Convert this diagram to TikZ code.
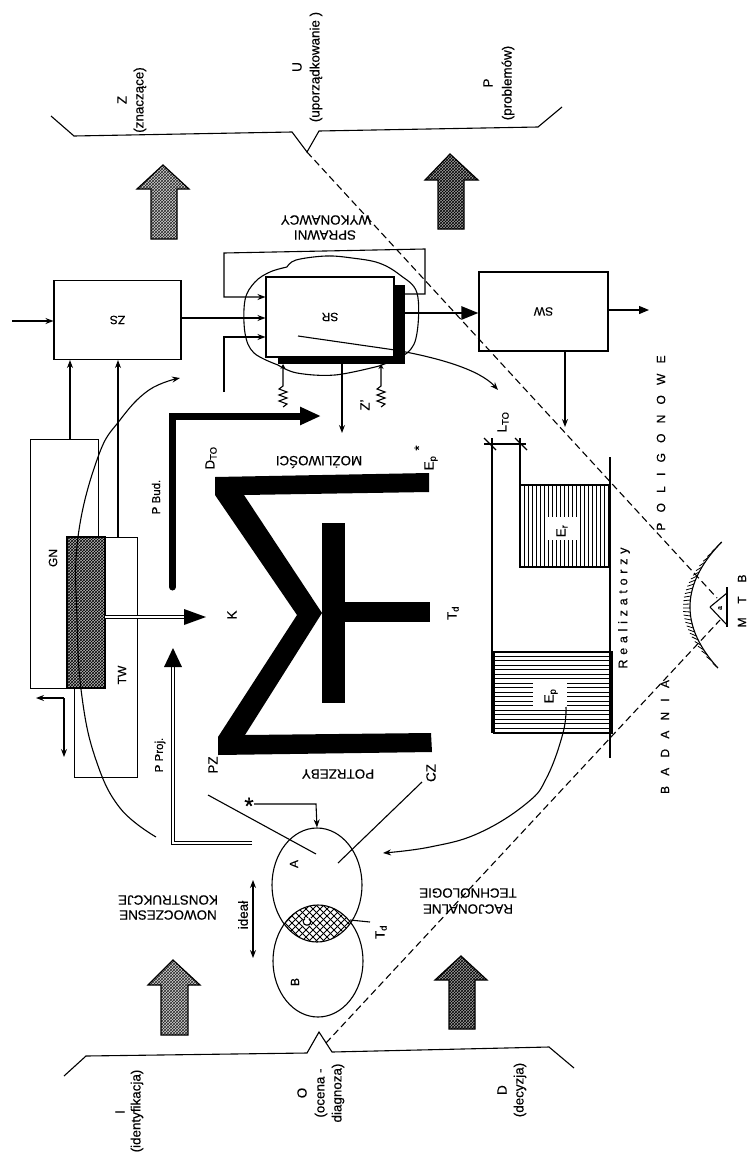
\documentclass[tikz,border=0pt]{standalone}
\usepackage{fontspec}
\setmainfont[FakeBold=0.35]{Liberation Sans}
\newfontfamily\spacedfont[LetterSpace=85,FakeBold=0.35]{Liberation Sans}
\newfontfamily\widefont[LetterSpace=115,FakeBold=0.35]{Liberation Sans}
\newfontfamily\medspacedfont[LetterSpace=38,FakeBold=0.35]{Liberation Sans}
\usetikzlibrary{arrows.meta,patterns,shapes.geometric}
\tikzset{
  txt/.style={inner sep=0pt,font=\fontsize{13.4}{15}\selectfont},
  tup/.style={txt,rotate=90},
  tdown/.style={txt,rotate=180},
  tsmall/.style={tup,font=\fontsize{11.5}{13}\selectfont},
  boxnode/.style={draw,inner sep=0pt,minimum width=#1},
  arr/.style={-{Stealth[length=8pt,width=6pt]}},
  dashline/.style={dash pattern=on 7pt off 4pt},
  dbl/.style={double,double distance=2.4pt,line width=1pt},
  bigup/.style={draw,line width=1.2pt,preaction={fill=gray!35},pattern=crosshatch,pattern color=black!85},
  darkup/.style={draw,line width=1.2pt,preaction={fill=gray!75},pattern=crosshatch,pattern color=black},
}
\begin{document}
\begin{tikzpicture}[x=1pt,y=-1pt,line width=1.1pt]
\path[use as bounding box,fill=white] (0,0) rectangle (749,1156);

% brackets
\draw (51,116)--(74,136)--(292,132)--(307,152)--(319,131)--(538,127)--(562,107);
\draw (64,1076)--(86,1056)--(307,1053)--(319,1032)--(332,1052)--(549,1047)--(574,1068);
\coordinate (Upeak) at (307,152);
\coordinate (Opeak) at (326,1043);

% top labels
\node[tup] (lz) at (122,100) {Z};
\node[tup] (lzn) at (140,100) {(znaczące)};
\node[tup] (lu) at (297,67) {U};
\node[tup] (lup) at (316,67) {(uporządkowanie )};
\node[tup] (lp) at (488,83) {P};
\node[tup] (lpr) at (508,83) {(problemów)};
% bottom labels
\node[tup] (li) at (120,1112) {I};
\node[tup] (lid) at (137,1111) {(identyfikacja)};
\node[tup] (lo) at (302,1093) {O};
\node[tup] (loc) at (321,1093) {(ocena -};
\node[tup] (ldi) at (338,1093) {diagnoza)};
\node[tup] (ld) at (502,1090) {D};
\node[tup] (lde) at (520,1090) {(decyzja)};

% block arrows
\path[bigup] (163,165)--(137,189)--(151,189)--(151,239)--(177,239)--(177,189)--(189,189)--cycle;
\path[darkup] (450,154)--(425,180)--(438,180)--(438,229)--(464,229)--(464,180)--(478,180)--cycle;
\path[bigup] (173,960)--(148,985)--(161,985)--(161,1035)--(188,1035)--(188,985)--(200,985)--cycle;
\path[darkup] (461,956)--(435,980)--(449,980)--(449,1029)--(475,1029)--(475,980)--(487,980)--cycle;

% upside-down titles
\node[tdown] (sp1) at (325,235) {SPRAWNI};
\node[tdown] (sp2) at (326,220) {WYKONAWCY};
\node[tdown] (moz) at (319,462) {MOŻLIWOŚCI};
\node[tdown] (pot) at (338,774) {POTRZEBY};
\node[tdown] (now) at (168,915) {NOWOCZESNE};
\node[tdown] (kon) at (168,900) {KONSTRUKCJE};
\node[tdown] (rac) at (468,909) {RACJONALNE};
\node[tdown] (tec) at (468,893) {TECHNOLOGIE};

% cloud round SR
\draw plot[smooth,tension=0.6] coordinates {(278,365)(254,353)(245,333)(245,300)(255,282)(270,272)(287,267)};
\draw plot[smooth,tension=0.6] coordinates {(287,267)(296,260)(326,256)(352,258)(379,263)(400,275)(417,293)(417,333)(407,353)(379,366)};
\draw plot[smooth,tension=0.6] coordinates {(379,366)(335,375)(297,373)(278,365)};

% boxes
\node[boxnode=127pt,minimum height=79pt,fill=white] (ZS) at (117.5,320) {\rotatebox{180}{\fontsize{12}{14}\selectfont ZS}};
\fill (394,285) rectangle (405,364);
\fill (278,357) rectangle (405,364);
\node[boxnode=128pt,minimum height=80pt,fill=white] (SR) at (330,317) {\rotatebox{180}{\fontsize{12}{14}\selectfont SR}};
\node[boxnode=129pt,minimum height=79pt,fill=white] (SW) at (543.5,311.5) {\rotatebox{180}{\fontsize{12}{14}\selectfont SW}};

% feedback frame
\coordinate (fr1) at (405,294);
\coordinate (fr2) at (425,294);
\coordinate (fr3) at (425,249);
\coordinate (fr4) at (224,253);
\coordinate (fr5) at (224,297);
\draw[arr] (fr1)--(fr2)--(fr3)--(fr4)--(fr5)--(fr5 -| SR.west);

% main inputs
\coordinate (zin) at (12,321);
\draw[arr] (zin)--(zin -| ZS.west);
\coordinate (zsr) at (181,318);
\draw[arr] (zsr)--(zsr -| SR.west);
\coordinate (srlow0) at (224,392);
\coordinate (srlow1) at (224,337);
\draw[arr] (srlow0)--(srlow1)--(srlow1 -| SR.west);
\coordinate (srout) at (405,313);
\draw[line width=2.6pt,-{Triangle[length=17pt,width=13pt]}] (srout)--(srout -| SW.west);
\coordinate (swout) at (608,310);
\coordinate (swend) at (649,310);
\draw[line width=1.2pt,-{Triangle[length=10pt,width=8pt]}] (swout)--(swend);

% GN and TW
\node[boxnode=68pt,minimum height=249pt,anchor=north west] (GN) at (30,439) {};
\node[boxnode=63pt,minimum height=240pt,anchor=north west] (TW) at (74,537) {};
\path[draw,preaction={fill=gray!55},pattern=crosshatch,pattern color=black] (67,537) rectangle (105,688);
\node[tup,font=\fontsize{12}{14}\selectfont] (gnl) at (53,558) {GN};
\node[tup,font=\fontsize{12}{14}\selectfont] (twl) at (122,675) {TW};

\coordinate (gnup) at (70,439);
\coordinate (twup) at (118,537);
\draw[arr] (gnup)--(gnup |- ZS.south);
\draw[arr] (twup)--(twup |- ZS.south);

% out of GN
\coordinate (gc) at (64,698);
\coordinate (gl) at (36,698);
\coordinate (gd) at (64,757);
\draw[arr] (gc)--(gl);
\draw[arr] (gc)--(gd);

% long curve
\coordinate (cvend) at (180,378);
\draw[arr] plot[smooth,tension=0.7] coordinates {(156,837)(120,808)(96,760)(82,697)(77,620)(78,537)(98,457)(120,420)(149,390)(180,378)};

% P Bud
\coordinate (pb0) at (172.5,587);
\coordinate (pb1) at (172.5,416);
\coordinate (pb2) at (321,416);
\draw[line width=7pt,line cap=round,-{Triangle[length=21pt,width=17pt]}] (pb0)--(pb1)--(pb2);
\node[tsmall] (pbt) at (156,497) {P Bud.};

% double arrow TW to K
\coordinate (kin0) at (105,617);
\coordinate (kin1) at (186,617);
\coordinate (kin2) at (206,617);
\draw[dbl] (kin0)--(kin1);
\fill (184,609)--(kin2)--(184,625)--cycle;
\node[tup] (kl) at (232,615) {K};

% P Proj
\coordinate (pp0) at (252,843);
\coordinate (pp1) at (173,843);
\coordinate (pp2) at (173,667);
\coordinate (pp3) at (173,648);
\draw[dbl] (pp0)--(pp1)--(pp2);
\fill (164,667)--(pp3)--(182,667)--cycle;
\node[tsmall] (ppt) at (160,755) {P Proj.};

% big black shape
\fill (429,473)--(215,477)--(215,495)--(297,615)--(218,737)--(218,755)--(432,752)--(431,733)--(245,735)--(322,613)--(244,495)--(429,492)--cycle;
\fill (322,523) rectangle (345,703);
\fill (345,602) rectangle (430,622);

\node[tup] (dto) at (211,458) {D\textsubscript{TO}};
\node[tup] (pz) at (213,765) {PZ};
\node[tup] (ept) at (431,463) {E\textsubscript{p}};
\node[tup] (eptstar) at (419,448) {*};
\node[tup] (td1) at (453,613) {T\textsubscript{d}};
\node[tup] (cz) at (431,773) {CZ};

% springs
\coordinate (s1top) at (283,364);
\coordinate (s2top) at (381,364);
\draw[{Stealth[length=5pt,width=5pt]}-] (s1top)--(283,386)--(279,389)--(287,392)--(279,395)--(287,398)--(279,401)--(287,404)--(283,407);
\draw[{Stealth[length=5pt,width=5pt]}-] (s2top)--(381,386)--(377,389)--(385,392)--(377,395)--(385,398)--(377,401)--(385,404)--(381,407);
\node[tup] (zp) at (365,405) {Z'};
\coordinate (srd0) at (342,364);
\coordinate (srd1) at (342,433);
\draw[arr] (srd0)--(srd1);

% SR thin line and curve
\coordinate (srt0) at (298,336);
\coordinate (srt1) at (395,350);
\coordinate (srt2) at (498,390);
\draw (srt0)--(srt1);
\draw[arr] (srt1) .. controls (440,358) and (480,370) .. (srt2);

% SW to energy
\coordinate (swd) at (565,351);
\coordinate (swe) at (565,427);
\draw[arr] (swd)--(swe);

% energy diagram
\draw (492,438)--(492,733);
\draw (520,438)--(520,485);
\draw (610,457)--(610,758);
\foreach \x in {524,528,...,610} {\draw[line width=0.8pt] (\x,485)--(\x,567);}
\draw (520,485) rectangle (610,567);
\foreach \y in {656,660.5,...,733} {\draw[line width=0.8pt] (494,\y)--(612,\y);}
\draw (494,652) rectangle (612,733);
\fill[white] (547,517) rectangle (580,540);
\fill[white] (533,682) rectangle (567,708);
\node[tup] (erl) at (562,531) {E\textsubscript{r}};
\node[tup] (epl) at (551,696) {E\textsubscript{p}};
\node[tup] (lto) at (503,422) {L\textsubscript{TO}};
\coordinate (dl) at (484,444);
\coordinate (dr) at (526,444);
\draw (dl)--(dr);
\draw (484,438)--(496,450);
\draw (515,438)--(527,450);

% labels Realizatorzy etc.
\node[inner sep=0pt,rotate=90,font=\fontsize{12.5}{14}\medspacedfont] (real) at (624,608) {Realizatorzy};
\node[inner sep=0pt,rotate=90,font=\fontsize{12}{14}\spacedfont] (poli) at (661,443) {POLIGONOWE};
\node[inner sep=0pt,rotate=90,font=\fontsize{12}{14}\spacedfont] (bad) at (665,737) {BADANIA};
\node[inner sep=0pt,rotate=90,font=\fontsize{12}{14}\widefont] (mtb) at (742,601) {MTB};

% curve Ep to A
\coordinate (epc1) at (383,853);
\draw[arr] plot[smooth,tension=0.7] coordinates {(566,707)(563,733)(547,777)(527,803)(479,833)(430,847)(383,853)};

% ellipses
\begin{scope}
  \clip (317,885) ellipse [x radius=45,y radius=57];
  \clip (318,961) ellipse [x radius=45,y radius=56];
  \fill[white] (260,890) rectangle (370,960);
  \foreach \k in {-42,-35,...,42} {
    \draw[line width=0.9pt] (250,923+\k-70)--(390,923+\k+70);
    \draw[line width=0.9pt] (250,923+\k+70)--(390,923+\k-70);
  }
\end{scope}
\node[draw,ellipse,inner sep=0pt,minimum width=90pt,minimum height=114pt] (A) at (317,885) {};
\node[draw,ellipse,inner sep=0pt,minimum width=90pt,minimum height=112pt] (B) at (318,961) {};
\node[tup,font=\fontsize{12}{14}\selectfont] (al) at (294,864) {A};
\node[tup,font=\fontsize{12}{14}\selectfont] (bl) at (295,982) {B};
\node[tup,font=\fontsize{12}{14}\selectfont,fill=white] (cl) at (307,922) {C};
\coordinate (tdl0) at (350,920);
\coordinate (tdl1) at (370,922);
\draw (tdl0)--(tdl1);
\node[tup] (td2) at (381,932) {T\textsubscript{d}};
\node[tup] (idl) at (243,915) {ideał};
\coordinate (id0) at (253,880);
\coordinate (id1) at (253,958);
\draw[{Stealth[length=8pt,width=6pt]}-{Stealth[length=8pt,width=6pt]}] (id0)--(id1);

% lines into A
\coordinate (pzl0) at (208,795);
\coordinate (pzl1) at (316,854);
\draw (pzl0)--(pzl1);
\coordinate (czl0) at (422,782);
\coordinate (czl1) at (338,863);
\draw (czl0)--(czl1);
\node[inner sep=0pt,font=\fontsize{24}{24}\selectfont] (star) at (249,806) {*};
\coordinate (st1) at (316,804);
\draw[arr] (star.east |- st1)--(st1)--(A.north);

% dashed lines
\coordinate (tr1) at (717,598);
\coordinate (tr2) at (720,620);
\draw[dashline] (Upeak)--(tr1);
\draw[dashline] (Opeak)--(tr2);

% MTB scale
\draw plot[domain=-65:61,samples=40,variable=\t] ({690+0.0075*\t*\t},{607+\t});
\foreach \t in {-65,-60,-55,-50,-45,-40,-35,-31,-27,-23,-19,-15,-11,-7,-3,1,5,9,13,17,21,25,29,33,38,43,48,54,61} {
  \pgfmathsetmacro{\nx}{-1/sqrt(1+(0.015*\t)^2)}
  \pgfmathsetmacro{\ny}{-0.015*\t/sqrt(1+(0.015*\t)^2)}
  \draw[line width=0.8pt] ({690+0.0075*\t*\t},{607+\t})--({690+0.0075*\t*\t+7*\nx},{607+\t+7*\ny});
}
\draw (710,607)--(727,593);
\draw (710,607)--(727,625);
\draw[line width=2.2pt] (727,587)--(727,627);
\node[inner sep=0pt,rotate=90,font=\fontsize{7}{8}\selectfont] (tra) at (720,608) {a};
\end{tikzpicture}
\end{document}
